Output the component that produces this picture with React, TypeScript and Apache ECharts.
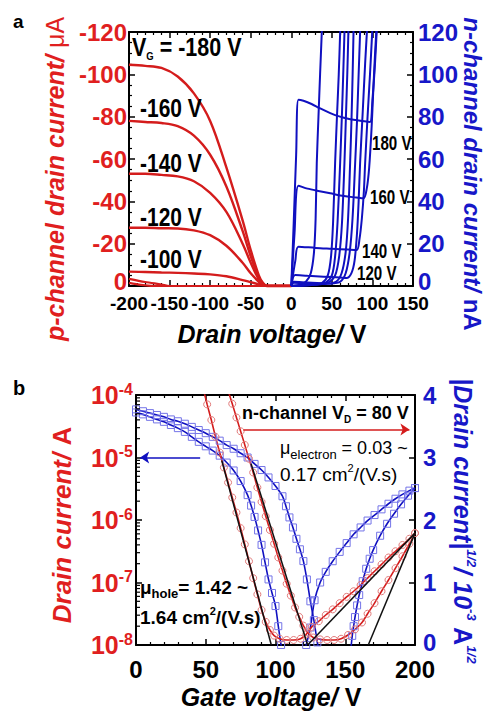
import React, { useEffect, useRef } from "react";
import * as echarts from "echarts";

// ---------- Panel a : p-channel output curves (drain voltage V, current µA) ----------
const pDrainV = [-200, -180, -160, -140, -120, -100, -80, -60, -50, -40, -35, -30, 0];
const pVg180 = [-104.5, -104, -103, -99, -91, -78, -56, -31, -17, -5, -1.5, 0, 0];
const pVg160 = [-78, -77.5, -77, -75.5, -71, -62, -47, -26, -14, -4, -1, 0, 0];
const pVg140 = [-53, -53, -52.5, -51.8, -49.5, -44, -35, -20, -11, -3, -0.8, 0, 0];
const pVg120 = [-27.5, -27.5, -27.3, -27.2, -26.3, -24, -19, -11, -6, -2, -0.5, 0, 0];
const pVg100 = [-6.8, -6.6, -6.4, -6.2, -5.9, -5.5, -4.6, -2.8, -1.8, -0.8, -0.3, 0, 0];
const pVg80 = [[-200, -3.4], [-180, -1.9], [-160, -0.7], [-150, 0], [0, 0]];
const pVg60 = [[-200, -1.5], [-185, -0.5], [-170, 0], [0, 0]];

// ---------- Panel a : n-channel output curves (drain voltage V, current nA) ----------
const nVg180 = [[0, 0], [3, 30], [6, 62], [8.8, 88], [15, 87.5], [25, 86], [35, 84], [48, 81.7], [60, 80], [70, 79], [80, 78.4], [90, 77.8], [97, 77.5], [100, 88], [103, 104], [105.5, 122]];
const nVg160 = [[0, 0], [4, 25], [8.8, 47.4], [20, 46], [35, 44.8], [48, 43.8], [65, 42.5], [80, 41.8], [89, 41.4], [93, 46], [96, 56], [99, 75], [101, 92], [103, 108], [105, 122]];
const nVg140 = [[0, 0], [5, 12], [8.8, 18.6], [30, 18], [50, 17.6], [70, 17.2], [80.6, 17], [84, 22], [87, 32], [89.5, 45], [91, 58], [94, 80], [97, 100], [100, 122]];
const nVg120 = [[0, 0], [4.7, 5.2], [20, 4.8], [40, 4.4], [60, 4], [68, 3.8], [74, 6], [78, 12], [81, 25], [83, 40], [84.8, 58], [88, 82], [91, 105], [93.5, 122]];
const nVg100 = [[0, 0], [3, 2], [20, 1.6], [45, 1.2], [60, 2], [67, 6], [72, 16], [75.5, 32], [78.7, 58], [81, 78], [83, 100], [85, 122]];
const nVg80 = [[0, 0], [3, 1.5], [20, 1.2], [40, 1], [55, 2], [62, 6], [67, 16], [70, 32], [72.5, 58], [74.3, 80], [75.6, 100], [76.8, 122]];
const nVg60 = [[0, 0], [30, 0.8], [45, 1.5], [54, 5], [59, 14], [62.5, 30], [65.5, 58], [67.5, 82], [69, 100], [70.5, 122]];
const nVg40 = [[0, 0], [30, 0.6], [42, 1.5], [50, 5], [54, 14], [57, 30], [60.2, 58], [62.5, 82], [64, 100], [65.7, 122]];
const nVg20 = [[0, 0], [25, 0.5], [38, 1.5], [45, 5], [49, 14], [51.5, 30], [54, 58], [56.5, 82], [58.5, 100], [60.4, 122]];
const nVg0 = [[0, 0], [10, 0.5], [18, 2], [24, 6], [28, 16], [30, 32], [31.4, 58], [33.5, 80], [35.5, 100], [37.8, 122]];

// ---------- Panel b : transfer curves ----------
// |Id|^1/2 (10^-3 A^1/2), red circles
const sqrtA = [[48, 4.12], [51, 3.85], [54, 3.6], [57, 3.33], [60, 3.08], [63, 2.84], [66, 2.6], [69, 2.36], [72, 2.12], [75, 1.87], [78, 1.61], [81, 1.34], [84, 1.07], [87, 0.81], [90, 0.56], [93, 0.37], [96, 0.24], [99, 0.15], [103, 0.1], [108, 0.08], [113, 0.08], [118, 0.1], [122, 0.17], [126, 0.29], [131, 0.38], [136, 0.48], [141, 0.57], [146, 0.67], [151, 0.77], [156, 0.86], [161, 0.96], [166, 1.07], [171, 1.18], [176, 1.29], [181, 1.4], [186, 1.5], [191, 1.6], [196, 1.7], [200, 1.79]];
const sqrtB = [[66, 4.07], [69, 3.86], [72, 3.64], [75, 3.42], [78, 3.2], [81, 2.98], [84, 2.76], [87, 2.52], [90, 2.29], [93, 2.06], [96, 1.84], [99, 1.62], [102, 1.4], [105, 1.19], [108, 0.98], [111, 0.79], [114, 0.6], [117, 0.45], [120, 0.31], [123, 0.2], [127, 0.12], [132, 0.09], [137, 0.08], [142, 0.08], [147, 0.1], [152, 0.16], [157, 0.25], [162, 0.36], [166, 0.5], [171, 0.67], [176, 0.86], [181, 1.04], [186, 1.23], [191, 1.42], [196, 1.62], [200, 1.79]];
// |Id| (A), blue squares, log scale
const logALeft = [[0, 5.89e-5], [5, 5.5e-5], [10, 5.13e-5], [15, 4.79e-5], [20, 4.47e-5], [25, 4.07e-5], [30, 3.8e-5], [35, 3.47e-5], [40, 3.09e-5], [45, 2.75e-5], [50, 2.45e-5], [55, 2.14e-5], [60, 1.86e-5], [65, 1.58e-5], [70, 1.38e-5], [75, 1.17e-5], [80, 1.0e-5], [85, 7.9e-6], [90, 6.3e-6], [95, 4.8e-6], [100, 3.5e-6], [105, 2.4e-6], [107.5, 1.66e-6], [110, 1.1e-6], [112.5, 7.6e-7], [115, 5.0e-7], [117.5, 3.4e-7], [120, 2.2e-7], [122.5, 1.12e-7], [125, 5.0e-8], [127.5, 2.5e-8], [130, 1.1e-8], [132, 6.3e-9]];
const logARight = [[153, 5e-9], [155, 1.4e-8], [156, 2.0e-8], [157, 2.8e-8], [158.5, 4.3e-8], [160, 6.3e-8], [162.5, 1.05e-7], [165, 1.66e-7], [167.5, 2.4e-7], [170, 3.3e-7], [175, 5.6e-7], [180, 8.7e-7], [185, 1.26e-6], [190, 1.78e-6], [195, 2.45e-6], [200, 3.24e-6]];
const logBLeft = [[0, 5.25e-5], [5, 4.9e-5], [10, 4.47e-5], [15, 4.07e-5], [20, 3.72e-5], [25, 3.31e-5], [30, 2.95e-5], [35, 2.57e-5], [40, 2.14e-5], [45, 1.78e-5], [50, 1.51e-5], [55, 1.29e-5], [60, 1.07e-5], [65, 8.3e-6], [70, 6.2e-6], [75, 4.2e-6], [80, 2.5e-6], [82.5, 1.7e-6], [85, 1.12e-6], [87.5, 6.8e-7], [90, 4.0e-7], [92.5, 2.1e-7], [95, 1.12e-7], [97.5, 6.8e-8], [100, 4.2e-8], [102, 2.0e-8], [104, 1.0e-8], [106, 5e-9]];
const logBRight = [[119, 5e-9], [122, 1.0e-8], [125, 1.9e-8], [128, 5.2e-8], [132, 1.0e-7], [136, 1.48e-7], [141, 2.19e-7], [146, 3.09e-7], [151, 4.27e-7], [156, 5.9e-7], [161, 7.6e-7], [166, 9.8e-7], [171, 1.2e-6], [176, 1.48e-6], [181, 1.82e-6], [186, 2.19e-6], [191, 2.57e-6], [196, 2.95e-6], [200, 3.24e-6]];
// linear fits (black)
const fitHoleA = [[61.5, 2.95], [97, 0]];
const fitHoleB = [[82.5, 2.9], [123, 0]];
const fitElecA = [[123, 0], [200, 1.79]];
const fitElecB = [[166.5, 0], [200, 1.79]];
// arrows
const arrowLog = [[46, 1e-5], [3, 1e-5]];
const arrowSqrt = [[77, 3.45], [196, 3.45]];

const RED = "#e01f1f";
const BLUE = "#1717c8";
const LRED = "#d41c1c";
const LBLUE = "#1010c0";
const FONT = "'Liberation Sans', Arial, sans-serif";

const axisLine = { show: true, onZero: false, lineStyle: { color: "#000", width: 2 } };
const tick = { show: true, inside: true, length: 6, lineStyle: { color: "#000", width: 1.5 } };
const minor = { show: true, splitNumber: 5, length: 3, lineStyle: { color: "#000", width: 1.2 } };

function buildOption(): any {
  const series: any[] = [];
  const pRed = [pVg180, pVg160, pVg140, pVg120, pVg100];
  pRed.forEach((arr) => {
    series.push({
      type: "line", xAxisIndex: 0, yAxisIndex: 0, showSymbol: false, smooth: 0.35,
      data: pDrainV.map((x, i) => [x, arr[i]]),
      lineStyle: { color: LRED, width: 2.4 }, clip: true,
    });
  });
  [pVg80, pVg60].forEach((arr) => {
    series.push({
      type: "line", xAxisIndex: 0, yAxisIndex: 0, showSymbol: false, smooth: 0.3,
      data: arr, lineStyle: { color: LRED, width: 2.2 }, clip: true,
    });
  });
  [nVg0, nVg20, nVg40, nVg60, nVg80, nVg100, nVg120, nVg140, nVg160, nVg180].forEach((arr) => {
    series.push({
      type: "line", xAxisIndex: 0, yAxisIndex: 1, showSymbol: false, smooth: 0.3,
      data: arr, lineStyle: { color: LBLUE, width: 2 }, clip: true,
    });
  });

  // panel b
  const blueMark = { symbol: "rect", symbolSize: 7, itemStyle: { color: "rgba(255,255,255,0)", borderColor: "#7474e8", borderWidth: 1 } };
  const redMark = { symbol: "circle", symbolSize: 7, itemStyle: { color: "rgba(255,255,255,0)", borderColor: "#e27b7b", borderWidth: 1 } };
  [logALeft, logARight, logBLeft, logBRight].forEach((arr, k) => {
    const s: any = {
      type: "line", xAxisIndex: 2, yAxisIndex: 2, smooth: 0.3, data: arr, clip: true,
      lineStyle: { color: LBLUE, width: 1.6 }, ...blueMark,
    };
    if (k === 0) {
      s.markLine = {
        silent: true, symbol: ["none", "arrow"], symbolSize: [9, 9], label: { show: false },
        lineStyle: { color: LBLUE, width: 1.6, type: "solid" },
        data: [[{ coord: arrowLog[0] }, { coord: arrowLog[1] }]],
      };
    }
    series.push(s);
  });
  [sqrtA, sqrtB].forEach((arr, k) => {
    const s: any = {
      type: "line", xAxisIndex: 2, yAxisIndex: 3, smooth: 0.3, data: arr, clip: true,
      lineStyle: { color: LRED, width: 1.6 }, ...redMark,
    };
    if (k === 0) {
      s.markLine = {
        silent: true, symbol: ["none", "arrow"], symbolSize: [9, 9], label: { show: false },
        lineStyle: { color: LRED, width: 1.6, type: "solid" },
        data: [[{ coord: arrowSqrt[0] }, { coord: arrowSqrt[1] }]],
      };
    }
    series.push(s);
  });
  [fitHoleA, fitHoleB, fitElecA, fitElecB].forEach((arr) => {
    series.push({
      type: "line", xAxisIndex: 2, yAxisIndex: 3, showSymbol: false, data: arr, z: 5,
      lineStyle: { color: "#111", width: 1.5 }, clip: true,
    });
  });
  // log minor ticks on the left axis of panel b
  const minorLog: number[][] = [];
  for (let d = -8; d < -4; d++) for (let m = 2; m <= 9; m++) minorLog.push([0, m * Math.pow(10, d)]);
  series.push({
    type: "custom", xAxisIndex: 2, yAxisIndex: 2, data: minorLog, silent: true, z: 6,
    renderItem: (_p: any, api: any) => {
      const pt = api.coord([api.value(0), api.value(1)]);
      return { type: "line", shape: { x1: pt[0], y1: pt[1], x2: pt[0] + 4, y2: pt[1] }, style: { stroke: "#000", lineWidth: 1.2 } };
    },
  });

  const t = (text: string, x: number, y: number, rich: any, extra: any = {}) => ({
    type: "text", x, y, z: 100, ...extra,
    style: { text, rich, textAlign: extra.align || "left", textVerticalAlign: "middle", fill: "#000" },
  });
  const bold = (size: number) => ({ fontFamily: FONT, fontWeight: "bold", fontSize: size, fill: "#000", lineHeight: size + 4 });
  const sans = (size: number, weight: string, color = "#000", style = "normal", extra: any = {}) => ({
    fontFamily: FONT, fontWeight: weight, fontStyle: style, fontSize: size, fill: color, ...extra,
  });

  const graphic: any[] = [
    t("{b|a}", 13, 21, { b: sans(19, "bold") }),
    t("{b|b}", 13, 388, { b: sans(20, "bold") }),
    // panel a titles
    t("{i|p-channel drain current/ }{n|μA}", 55, 179, { i: sans(25, "bold", RED, "italic"), n: sans(25, "normal", RED) }, { rotation: Math.PI / 2, align: "center" }),
    t("{i|n-channel drain current/ }{n|nA}", 472, 174, { i: sans(24, "bold", BLUE, "italic"), n: sans(24, "bold", BLUE) }, { rotation: -Math.PI / 2, align: "center" }),
    t("{i|Drain voltage/ }{n|V}", 272, 334, { i: sans(25, "bold", "#000", "italic"), n: sans(25, "bold") }, { align: "center" }),
    // panel a annotations (condensed)
    t("{b|V}{s|G}{b| = -180 V}", 132, 47, { b: bold(25), s: { ...sans(11, "bold"), verticalAlign: "bottom" } }, { scaleX: 0.86 }),
    t("{b|-160 V}", 140, 108, { b: bold(25) }, { scaleX: 0.84 }),
    t("{b|-140 V}", 140, 163, { b: bold(25) }, { scaleX: 0.84 }),
    t("{b|-120 V}", 140, 217, { b: bold(25) }, { scaleX: 0.84 }),
    t("{b|-100 V}", 140, 259, { b: bold(25) }, { scaleX: 0.84 }),
    t("{b|180 V}", 372, 143, { b: bold(21) }, { scaleX: 0.72 }),
    t("{b|160 V}", 370, 197, { b: bold(21) }, { scaleX: 0.72 }),
    t("{b|140 V}", 362, 251, { b: bold(21) }, { scaleX: 0.72 }),
    t("{b|120 V}", 357, 273, { b: bold(21) }, { scaleX: 0.72 }),
    // panel b titles
    t("{i|Drain current/ }{n|A}", 62, 525, { i: sans(26, "bold", RED, "italic"), n: sans(26, "bold", RED) }, { rotation: Math.PI / 2, align: "center" }),
    t("{i||Drain current|}{s|1/2}{i|/ 10}{s|-3}{n| A}{s|1/2}", 463, 521,
      { i: sans(25, "bold", BLUE, "italic", { lineHeight: 30 }), n: sans(25, "bold", BLUE, "normal", { lineHeight: 30 }), s: sans(13, "bold", BLUE, "italic", { verticalAlign: "top" }) },
      { rotation: -Math.PI / 2, align: "center" }),
    t("{i|Gate voltage/ }{n|V}", 271, 697, { i: sans(25, "bold", "#000", "italic"), n: sans(25, "bold") }, { align: "center" }),
    // panel b annotations
    t("{b|n-channel V}{s|D}{b| = 80 V}", 242, 413, { b: sans(18, "bold", "#000", "normal", { lineHeight: 22 }), s: sans(10, "bold", "#000", "normal", { verticalAlign: "bottom" }) }),
    t("{b|μ}{s|electron}{b| = 0.03 ~}", 280, 448, { b: sans(18, "normal", "#000", "normal", { lineHeight: 26 }), s: sans(13, "normal", "#000", "normal", { verticalAlign: "bottom" }) }),
    t("{b|0.17 cm}{s|2}{b|/(V.s)}", 280, 474, { b: sans(19, "normal", "#000", "normal", { lineHeight: 24 }), s: sans(11, "normal", "#000", "normal", { verticalAlign: "top" }) }),
    t("{b|μ}{s|hole}{b|= 1.42 ~}", 140, 587, { b: sans(19, "bold", "#000", "normal", { lineHeight: 26 }), s: sans(13, "bold", "#000", "normal", { verticalAlign: "bottom" }) }),
    t("{b|1.64 cm}{s|2}{b|/(V.s)}", 140, 617, { b: sans(19, "bold", "#000", "normal", { lineHeight: 24 }), s: sans(11, "bold", "#000", "normal", { verticalAlign: "top" }) }),
  ];

  const liftZero = (color: string, size: number, lift: number) => ({
    formatter: (v: number) => (v === 0 ? `{z|0}` : `{n|${v}}`),
    rich: {
      n: { fontFamily: FONT, fontWeight: "bold", fontSize: size, color },
      z: { fontFamily: FONT, fontWeight: "bold", fontSize: size, color, padding: [0, 0, lift, 0] },
    },
  });

  return {
    animation: false,
    backgroundColor: "#fff",
    grid: [
      { left: 129, top: 32, width: 284, height: 254 },
      { left: 136, top: 395, width: 279, height: 250 },
    ],
    xAxis: [
      {
        gridIndex: 0, type: "value", min: -200, max: 150, interval: 50, position: "bottom",
        axisLine, axisTick: tick, minorTick: minor, splitLine: { show: false },
        axisLabel: { fontFamily: FONT, fontWeight: "bold", fontSize: 19, color: "#000", margin: 8, showMinLabel: true, showMaxLabel: true, hideOverlap: false },
      },
      {
        gridIndex: 0, type: "value", min: -200, max: 150, interval: 50, position: "top",
        axisLine, axisTick: tick, minorTick: minor, splitLine: { show: false }, axisLabel: { show: false },
      },
      {
        gridIndex: 1, type: "value", min: 0, max: 200, interval: 50, position: "bottom",
        axisLine, axisTick: tick, minorTick: minor, splitLine: { show: false },
        axisLabel: { fontFamily: FONT, fontWeight: "bold", fontSize: 24, color: "#000", margin: 12 },
      },
      {
        gridIndex: 1, type: "value", min: 0, max: 200, interval: 50, position: "top",
        axisLine, axisTick: tick, minorTick: minor, splitLine: { show: false }, axisLabel: { show: false },
      },
    ],
    yAxis: [
      {
        gridIndex: 0, type: "value", min: -120, max: 0, interval: 20, inverse: true, position: "left",
        axisLine, axisTick: tick, minorTick: { ...minor, splitNumber: 4 }, splitLine: { show: false },
        axisLabel: { margin: 2, ...liftZero(RED, 24, 10) },
      },
      {
        gridIndex: 0, type: "value", min: 0, max: 120, interval: 20, position: "right",
        axisLine, axisTick: tick, minorTick: { ...minor, splitNumber: 4 }, splitLine: { show: false },
        axisLabel: { margin: 5, ...liftZero(BLUE, 24, 10) },
      },
      {
        gridIndex: 1, type: "log", logBase: 10, min: 1e-8, max: 1e-4, position: "left",
        axisLine, axisTick: tick, splitLine: { show: false },
        axisLabel: {
          margin: 3,
          formatter: (v: number) => `{b|10}{s|${Math.round(Math.log10(v))}}`,
          rich: {
            b: { fontFamily: FONT, fontWeight: "bold", fontSize: 25, color: RED, lineHeight: 28 },
            s: { fontFamily: FONT, fontWeight: "bold", fontSize: 16, color: RED, verticalAlign: "top" },
          },
        },
      },
      {
        gridIndex: 1, type: "value", min: 0, max: 4, interval: 1, position: "right",
        axisLine, axisTick: tick, splitLine: { show: false },
        axisLabel: { margin: 8, ...liftZero(BLUE, 24, 6) },
      },
    ],
    series,
    graphic,
  };
}

export default function App() {
  const ref = useRef<HTMLDivElement>(null);
  useEffect(() => {
    if (!ref.current) return;
    const chart = echarts.init(ref.current, null, { renderer: "svg" });
    chart.setOption(buildOption());
    return () => chart.dispose();
  }, []);
  return (
    <div
      ref={ref}
      style={{ position: "fixed", left: 0, top: 0, width: 485, height: 711, background: "#fff" }}
    />
  );
}
